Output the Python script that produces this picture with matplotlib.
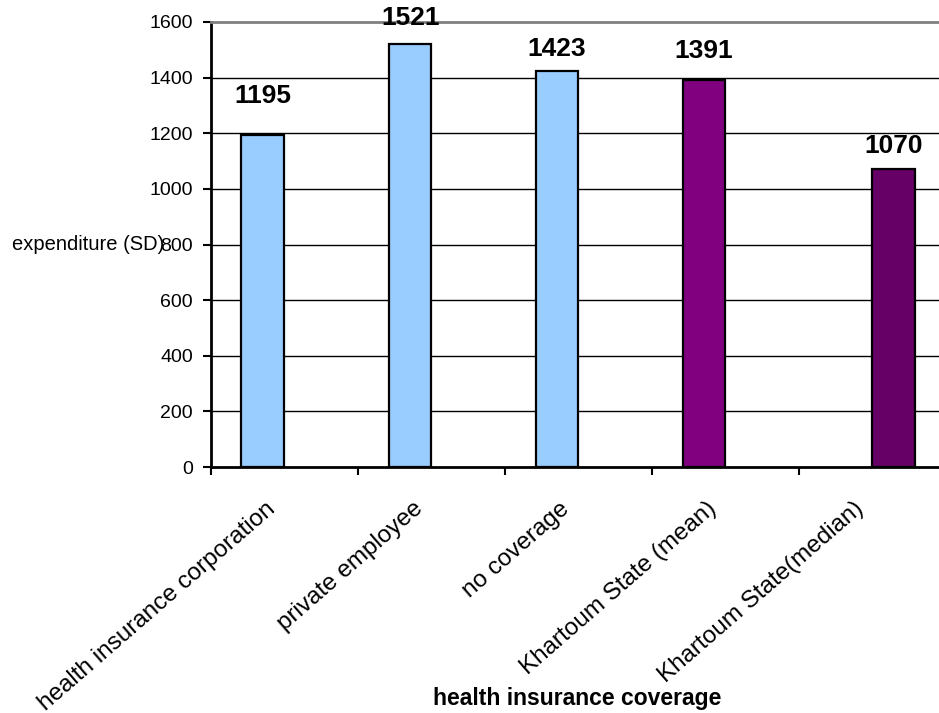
import matplotlib
matplotlib.use("Agg")
import matplotlib.pyplot as plt
import matplotlib.transforms as mtransforms
import numpy as np

# spending by type of health insurance coverage
categories = ['health insurance corporation', 'private employee', 'no coverage',
              'Khartoum State (mean)', 'Khartoum State(median)']
expenditure = [1195, 1521, 1423, 1391, 1070]

bar_colors = ['#99CCFF', '#99CCFF', '#99CCFF', '#800080', '#660066']
bar_shift = [0.35, 0.355, 0.355, 0.355, 0.645]   # where each bar sits inside its slot
label_pad = [23, 13.5, 11, 16, 11.5]             # gap above bar top, points

plt.rcParams['font.family'] = ['Liberation Sans', 'DejaVu Sans']

fig = plt.figure(figsize=(9.39, 7.13), dpi=100)
ax = fig.add_axes([211/939, (713-467)/713, 735/939, 445/713])

slots = np.arange(len(categories))
xpos = slots + np.array(bar_shift)
bars = ax.bar(xpos, expenditure, width=0.29, color=bar_colors,
              edgecolor='black', linewidth=1.6, zorder=3)

for b, v, p in zip(bars, expenditure, label_pad):
    ax.annotate(str(v), (b.get_x() + b.get_width()/2, v),
                xytext=(0, p), textcoords='offset points',
                ha='center', va='baseline', fontsize=19, fontweight='bold')

ax.set_xlim(0, 5)
ax.set_ylim(0, 1600)
ax.set_yticks(np.arange(0, 1601, 200))
ax.tick_params(axis='y', direction='out', length=6, width=1.5, pad=7, labelsize=14)

# tick marks on slot borders, names under the slot middles
ax.set_xticks(np.arange(0, 6))
ax.set_xticklabels([])
ax.tick_params(axis='x', which='major', direction='out', length=6, width=1.5)
ax.set_xticks(slots + 0.5, minor=True)
ax.set_xticklabels(categories, minor=True, rotation=41, ha='right',
                   rotation_mode='anchor', fontsize=17.5)
ax.tick_params(axis='x', which='minor', length=0, pad=22)
shift = mtransforms.ScaledTranslation(-19/100, 0, fig.dpi_scale_trans)
for t in ax.get_xticklabels(minor=True):
    t.set_transform(t.get_transform() + shift)

for y in range(200, 1600, 200):
    ax.axhline(y, color='black', linewidth=1, zorder=1)

ax.spines['right'].set_visible(False)
ax.spines['top'].set_color('#808080')
ax.spines['top'].set_linewidth(2)
ax.spines['left'].set_linewidth(2)
ax.spines['bottom'].set_linewidth(2)

ax.set_ylabel('expenditure (SD)', rotation=0, ha='left', va='center', fontsize=14.5)
ax.yaxis.set_label_coords(-0.271, 0.5)
ax.set_xlabel('health insurance coverage', fontweight='bold', fontsize=16.5, va='center')
ax.xaxis.set_label_coords(0.498, -0.521)

fig.savefig('out.png', dpi=100)
